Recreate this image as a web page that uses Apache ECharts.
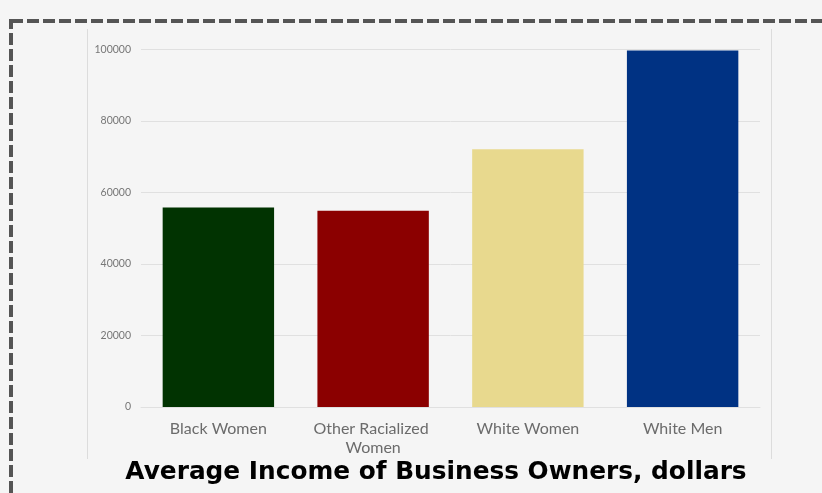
<!DOCTYPE html>
<html>
<head>
<meta charset="utf-8">
<script src="https://cdn.jsdelivr.net/npm/echarts@6/dist/echarts.min.js"></script>
<style>
html,body{margin:0;padding:0;background:#f5f5f5;}
#chart{width:822px;height:493px;}
</style>
</head>
<body>
<div id="chart"></div>
<script>
const categories = ['Black Women', 'Other Racialized Women', 'White Women', 'White Men'];
const incomes = [55800, 54900, 72100, 99700];
const barColors = ['#013301', '#8b0000', '#e8d98e', '#003283'];
const yTicks = [0, 20000, 40000, 60000, 80000, 100000];
const titleText = 'Average Income of Business Owners, dollars';

const chart = echarts.init(document.getElementById('chart'));
chart.setOption({
  backgroundColor: '#f5f5f5',
  animation: false,
  title: {
    text: titleText,
    left: 431, top: 455, textAlign: 'center',
    textStyle: {fontFamily: 'DejaVu Sans', fontWeight: 700, fontSize: 24.8, color: '#000'}
  },
  graphic: [
    {type: 'rect', shape: {x: 11, y: 21, width: 900, height: 600},
     style: {fill: 'none', stroke: '#555', lineWidth: 4, lineDash: [12, 4]}, z: 10},
    {type: 'line', shape: {x1: 87.5, y1: 29, x2: 87.5, y2: 459}, style: {stroke: '#dcdcdc', lineWidth: 1}},
    {type: 'line', shape: {x1: 771.5, y1: 29, x2: 771.5, y2: 459}, style: {stroke: '#dcdcdc', lineWidth: 1}}
  ],
  grid: {left: 141, right: 62, top: 49.5, bottom: 86, containLabel: false},
  xAxis: {
    type: 'category',
    data: categories,
    axisLine: {show: true, lineStyle: {color: '#e0e0e0'}},
    axisTick: {show: false},
    axisLabel: {
      color: '#6b6b6b', fontFamily: 'Lato', fontSize: 16, margin: 12,
      lineHeight: 19, width: 135, overflow: 'break', interval: 0
    }
  },
  yAxis: {
    type: 'value', min: yTicks[0], max: yTicks[yTicks.length - 1], interval: yTicks[1] - yTicks[0],
    axisLine: {show: false}, axisTick: {show: false},
    splitLine: {lineStyle: {color: '#e0e0e0'}},
    axisLabel: {color: '#777', fontFamily: 'Lato', fontSize: 10.5, margin: 10, formatter: v => String(v)}
  },
  series: [{
    type: 'bar',
    data: incomes.map((v, i) => ({value: v, itemStyle: {color: barColors[i]}})),
    barWidth: '72%'
  }]
});
</script>
</body>
</html>
